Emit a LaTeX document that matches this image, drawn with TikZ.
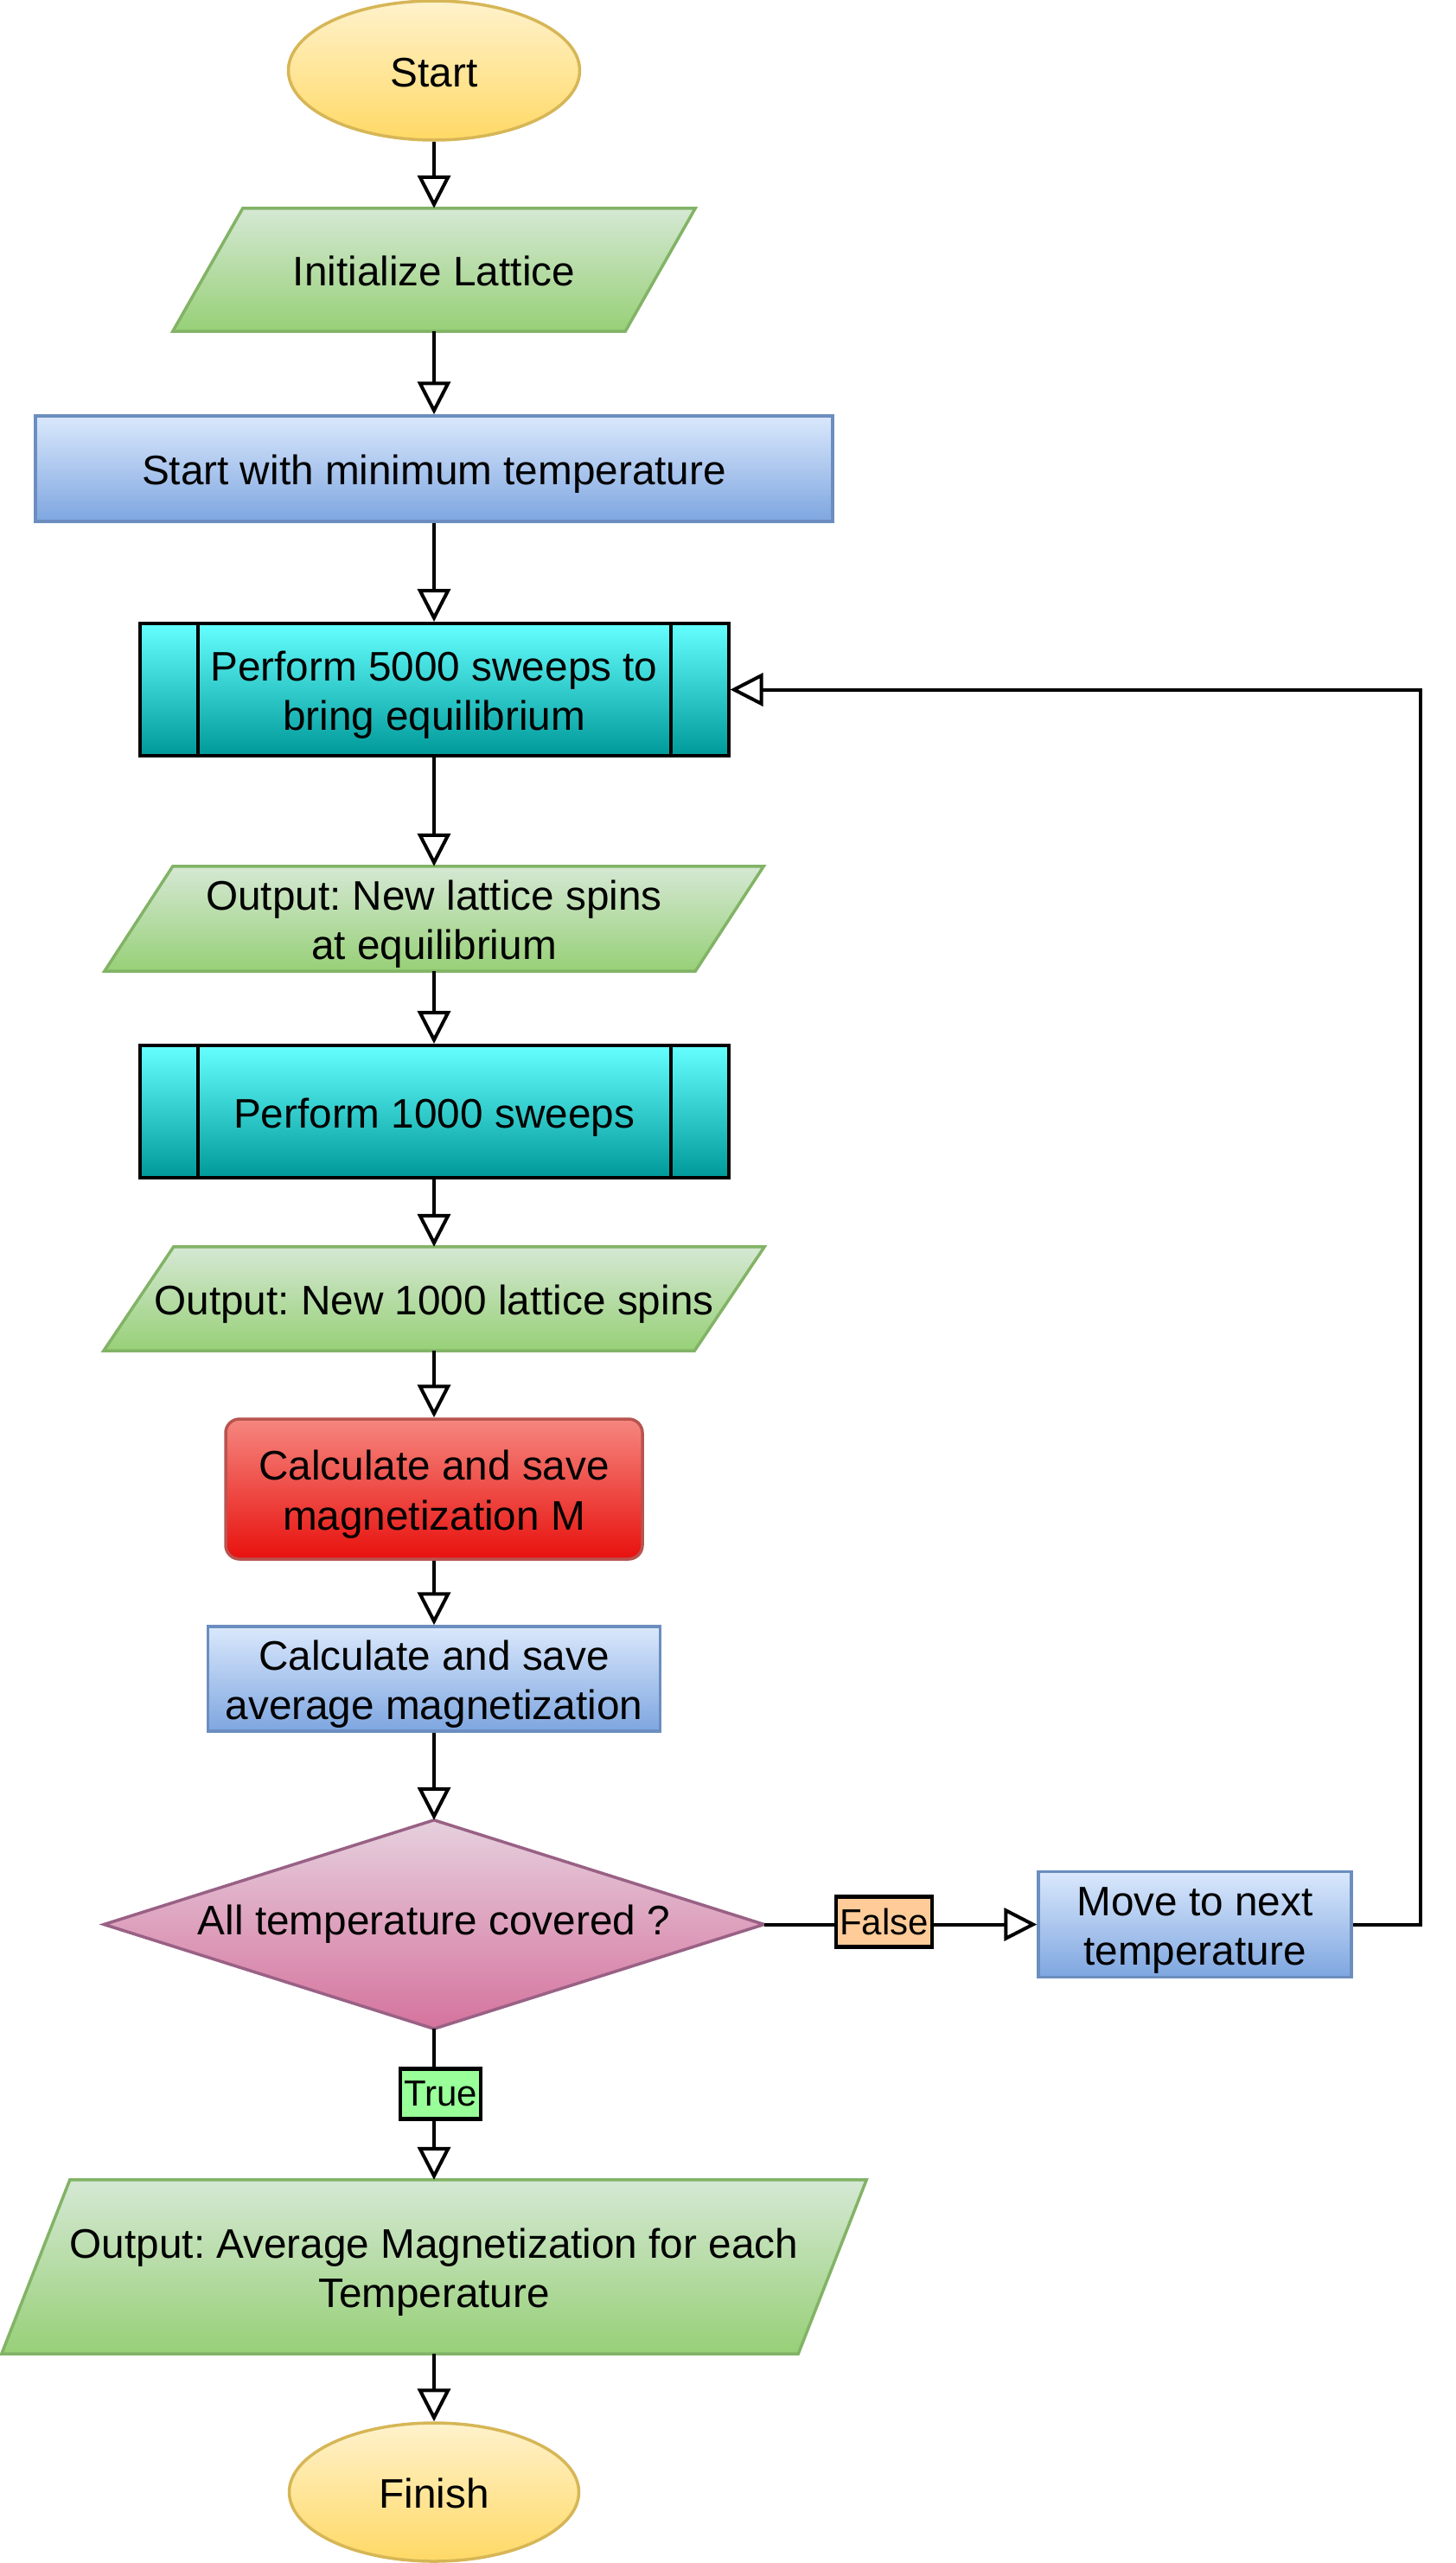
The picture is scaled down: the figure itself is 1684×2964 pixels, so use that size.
\documentclass[tikz,border=0pt]{standalone}
\usepackage{fontspec}
\setmainfont{Liberation Sans}
\frenchspacing
\usetikzlibrary{shapes.geometric,arrows.meta,calc,backgrounds}
\definecolor{ylwT}{HTML}{FFF2CC}\definecolor{ylwB}{HTML}{FFD966}\definecolor{ylwS}{HTML}{D6B656}
\definecolor{grnT}{HTML}{D5E8D4}\definecolor{grnB}{HTML}{97D077}\definecolor{grnS}{HTML}{82B366}
\definecolor{bluT}{HTML}{DAE8FC}\definecolor{bluB}{HTML}{7EA6E0}\definecolor{bluS}{HTML}{6C8EBF}
\definecolor{cynT}{HTML}{66FFFF}\definecolor{cynB}{HTML}{009999}
\definecolor{redT}{HTML}{F5877F}\definecolor{redB}{HTML}{E8110E}\definecolor{redS}{HTML}{B85450}
\definecolor{pnkT}{HTML}{E6D0DE}\definecolor{pnkB}{HTML}{D5739D}\definecolor{pnkS}{HTML}{996185}
\definecolor{falseF}{HTML}{FFCC99}\definecolor{trueF}{HTML}{99FF99}
\newcommand{\vst}{\rule[-10pt]{0pt}{57pt}}
\begin{document}
\begin{tikzpicture}[x=1pt,y=-1pt,
  base/.style={inner sep=0pt, align=center, font=\fontsize{47.7}{57.2}\selectfont, text=black},
  term/.style={base, ellipse, draw=ylwS, line width=3.5pt, top color=ylwT, bottom color=ylwB},
  iobox/.style={base, rectangle},
  iofill/.style={draw=grnS, line width=3.5pt, top color=grnT, bottom color=grnB},
  procbox/.style={base, rectangle, draw=bluS, line width=3.5pt, top color=bluT, bottom color=bluB},
  subproc/.style={base, rectangle, draw=black, line width=4pt, top color=cynT, bottom color=cynB},
  calcbox/.style={base, rectangle, rounded corners=16pt, draw=redS, line width=3.5pt, top color=redT, bottom color=redB},
  decbox/.style={base, rectangle},
  decfill/.style={draw=pnkS, line width=3.5pt, top color=pnkT, bottom color=pnkB},
  lbl/.style={draw=black, line width=4.5pt, inner xsep=4pt, inner ysep=0pt, minimum height=58pt, font=\fontsize{42}{50}\selectfont},
  arr/.style={draw=black, line width=4pt, -{Triangle[open, length=38pt, width=38pt]}}
]
\useasboundingbox (0,0) rectangle (1684,2964);

\node[term, minimum width=337pt, minimum height=161pt] (start) at (502,81.5) {\vst Start\vst};
\node[iobox, minimum width=604pt, minimum height=142pt] (init) at (502,312) {\vst Initialize Lattice\vst};
\node[procbox, minimum width=922pt, minimum height=122pt] (mint) at (502,542) {\vst Start with minimum temperature\vst};
\node[subproc, minimum width=681pt, minimum height=153pt] (sweepA) at (502,797.5) {\vst Perform 5000 sweeps to\\bring equilibrium\vst};
\node[iobox, minimum width=762pt, minimum height=121pt] (outA) at (502,1062.5) {\vst Output: New lattice spins\\at equilibrium\vst};
\node[subproc, minimum width=681pt, minimum height=153pt] (sweepB) at (502,1285.5) {\vst Perform 1000 sweeps\vst};
\node[iobox, minimum width=764pt, minimum height=120pt] (outB) at (502,1502) {\vst Output: New 1000 lattice spins\vst};
\node[calcbox, minimum width=482pt, minimum height=162pt] (calcM) at (502,1722) {\vst Calculate and save\\magnetization M\vst};
\node[procbox, minimum width=523pt, minimum height=121pt] (calcAvg) at (502,1941.5) {\vst Calculate and save\\average magnetization\vst};
\node[decbox, minimum width=763pt, minimum height=241pt] (dec) at (502,2225.5) {All temperature covered ?};
\node[procbox, minimum width=362pt, minimum height=122pt] (move) at (1382,2225.5) {\vst Move to next\\temperature\vst};
\node[iobox, minimum width=1000pt, minimum height=201pt] (outC) at (502,2621.5) {\vst Output: Average Magnetization for each\\Temperature\vst};
\node[term, minimum width=335pt, minimum height=160pt] (finish) at (502,2882) {\vst Finish\vst};

\begin{scope}[on background layer]
  \path[iofill] ($(init.north west)+(81,0)$) -- (init.north east) -- ($(init.south east)+(-81,0)$) -- (init.south west) -- cycle;
  \path[iofill] ($(outA.north west)+(79,0)$) -- (outA.north east) -- ($(outA.south east)+(-79,0)$) -- (outA.south west) -- cycle;
  \path[iofill] ($(outB.north west)+(81,0)$) -- (outB.north east) -- ($(outB.south east)+(-81,0)$) -- (outB.south west) -- cycle;
  \path[iofill] ($(outC.north west)+(79,0)$) -- (outC.north east) -- ($(outC.south east)+(-79,0)$) -- (outC.south west) -- cycle;
  \path[decfill] (dec.west) -- (dec.north) -- (dec.east) -- (dec.south) -- cycle;
\end{scope}

\foreach \n in {sweepA,sweepB}{
  \draw[line width=4pt] ($(\n.north west)+(69,0)$) -- ($(\n.south west)+(69,0)$);
  \draw[line width=4pt] ($(\n.north east)+(-69,0)$) -- ($(\n.south east)+(-69,0)$);
}

\draw[arr] (start.south) -- (init.north);
\draw[arr] (init.south) -- (mint.north);
\draw[arr] (mint.south) -- (sweepA.north);
\draw[arr] (sweepA.south) -- (outA.north);
\draw[arr] (outA.south) -- (sweepB.north);
\draw[arr] (sweepB.south) -- (outB.north);
\draw[arr] (outB.south) -- (calcM.north);
\draw[arr] (calcM.south) -- (calcAvg.north);
\draw[arr] (calcAvg.south) -- (dec.north);
\draw[arr] (dec.east) -- node[lbl, fill=falseF, pos=0.44, yshift=3pt] (falselbl) {False} (move.west);
\draw[arr] (dec.south) -- node[lbl, fill=trueF, pos=0.43, xshift=7.5pt] (truelbl) {True} (outC.north);
\draw[arr] (outC.south) -- (finish.north);
\draw[arr] (move.east) -- ++(78,0) |- (sweepA.east);
\end{tikzpicture}
\end{document}
